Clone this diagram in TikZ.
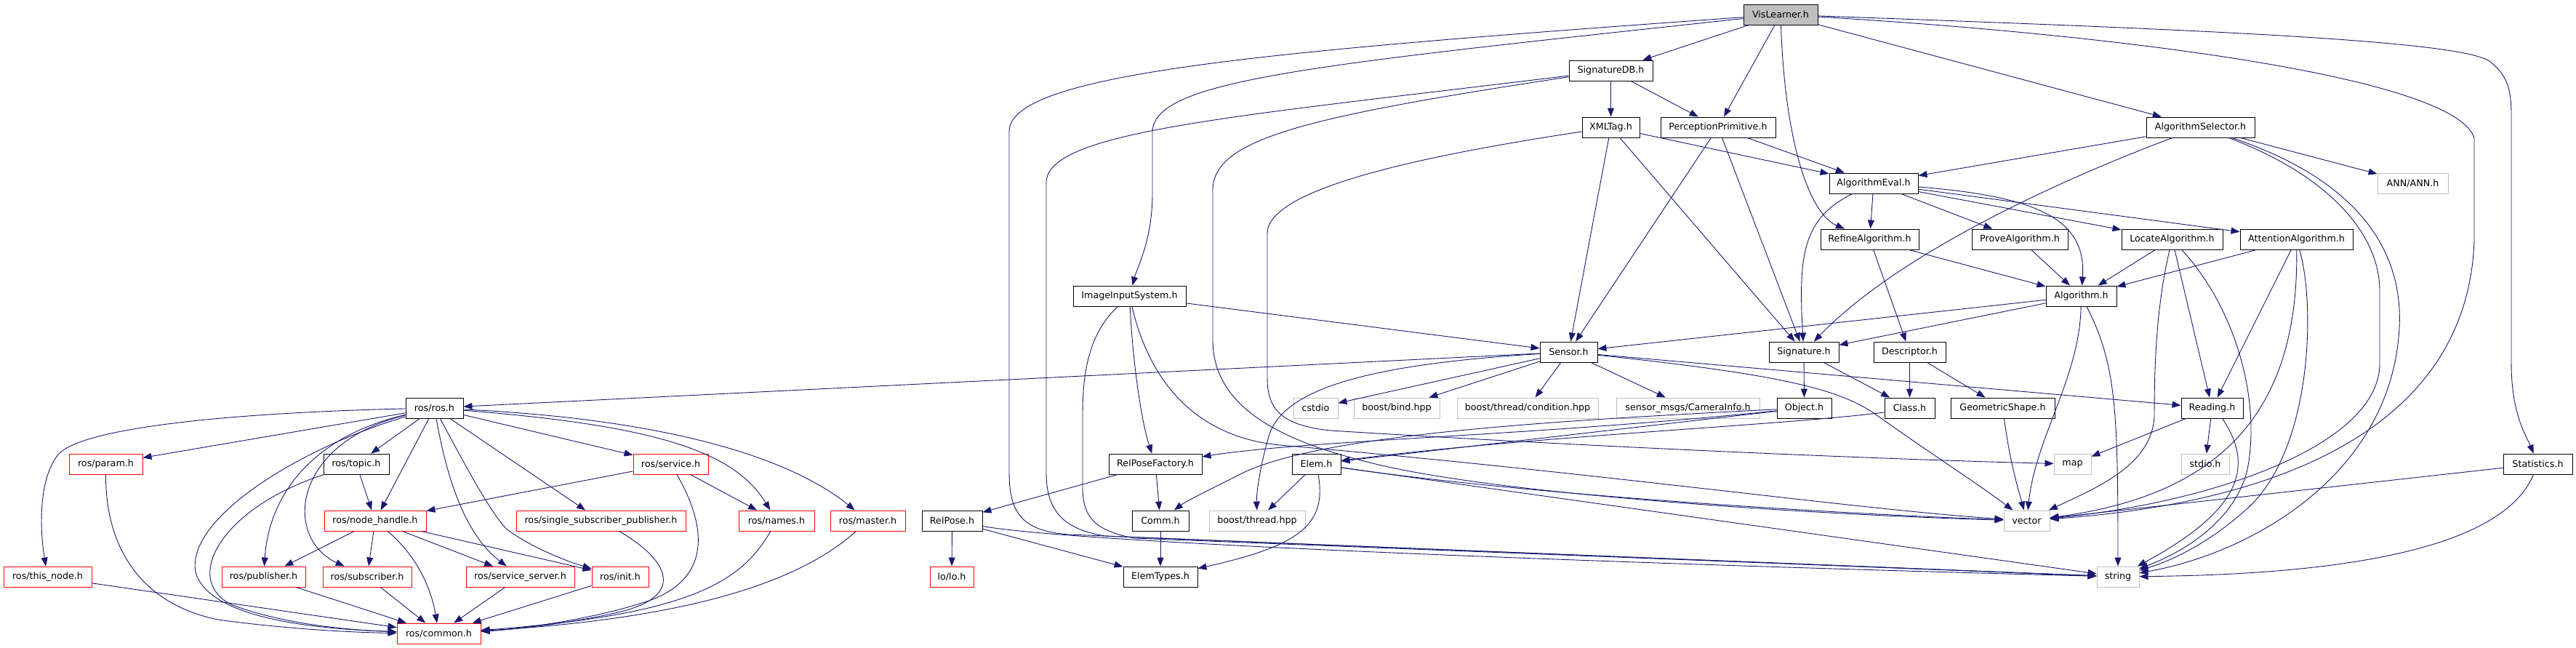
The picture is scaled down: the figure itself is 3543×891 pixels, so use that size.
\documentclass[tikz,border=0pt]{standalone}
\usepackage{fontspec}
\newfontfamily\dv{DejaVu Sans}
\usetikzlibrary{arrows.meta}
\definecolor{edgec}{HTML}{191970}
\definecolor{extg}{HTML}{BFBFBF}
\definecolor{trnred}{HTML}{FF0000}
\tikzset{
  nd/.style={draw=black, line width=0.9pt, inner sep=0pt, minimum height=28pt, font={\dv\fontsize{12.7}{15}\selectfont}, text=black},
  ext/.style={nd, draw=extg},
  trn/.style={nd, draw=trnred},
  e/.style={draw=edgec, line width=0.9pt, -{Triangle[length=12pt,width=9pt]}},
}
\begin{document}
\begin{tikzpicture}[x=1pt,y=-1pt]
\fill[white] (0,0) rectangle (3543,891);
\useasboundingbox (0,0) rectangle (3543,891);
% row 0-6
\node[nd,minimum width=102pt,fill=extg] (vis) at (2449,20) {VisLearner.h};
\node[nd,minimum width=115pt] (sdb) at (2215.5,97) {SignatureDB.h};
\node[nd,minimum width=158pt] (pp) at (2363,175) {PerceptionPrimitive.h};
\node[nd,minimum width=79pt] (xml) at (2215.5,175) {XMLTag.h};
\node[nd,minimum width=149pt] (asel) at (3026.5,175) {AlgorithmSelector.h};
\node[nd,minimum width=122pt] (ae) at (2577,252) {AlgorithmEval.h};
\node[ext,minimum width=97pt] (ann) at (3318.5,252) {ANN/ANN.h};
\node[nd,minimum width=135pt] (ra) at (2571.5,329) {RefineAlgorithm.h};
\node[nd,minimum width=132pt] (pa) at (2778,329) {ProveAlgorithm.h};
\node[nd,minimum width=139pt] (la) at (2987.5,329) {LocateAlgorithm.h};
\node[nd,minimum width=155pt] (att) at (3158.5,329) {AttentionAlgorithm.h};
\node[nd,minimum width=97pt] (alg) at (2862.5,407) {Algorithm.h};
\node[nd,minimum width=155pt] (iis) at (1553.5,407) {ImageInputSystem.h};
\node[nd,minimum width=79pt] (sen) at (2157.5,484) {Sensor.h};
\node[nd,minimum width=96pt] (sig) at (2481,484) {Signature.h};
\node[nd,minimum width=99pt] (desc) at (2626.5,484) {Descriptor.h};
% row 7
\node[nd,minimum width=79pt] (ros) at (597.5,561) {ros/ros.h};
\node[ext,minimum width=61pt] (cstdio) at (1809.5,561) {cstdio};
\node[ext,minimum width=118pt] (bind) at (1921,561) {boost/bind.hpp};
\node[ext,minimum width=194pt] (cond) at (2101,561) {boost/thread/condition.hpp};
\node[ext,minimum width=197pt] (cam) at (2321.5,561) {sensor\_msgs/CameraInfo.h};
\node[nd,minimum width=75pt] (obj) at (2481.5,561) {Object.h};
\node[nd,minimum width=69pt] (cls) at (2626.5,561) {Class.h};
\node[nd,minimum width=143pt] (geo) at (2754.5,561) {GeometricShape.h};
\node[nd,minimum width=85pt] (rdg) at (3042.5,561) {Reading.h};
% row 8
\node[trn,minimum width=101pt] (param) at (145.5,638) {ros/param.h};
\node[nd,minimum width=90pt] (topic) at (490,638) {ros/topic.h};
\node[trn,minimum width=103pt] (srv) at (922.5,638) {ros/service.h};
\node[nd,minimum width=128pt] (rpf) at (1589,638) {RelPoseFactory.h};
\node[nd,minimum width=67pt] (elem) at (1810.5,638) {Elem.h};
\node[ext,minimum width=51pt] (map) at (2850.5,638) {map};
\node[ext,minimum width=66pt] (stdio) at (3033,638) {stdio.h};
\node[nd,minimum width=95pt] (stat) at (3490.5,638) {Statistics.h};
% row 9
\node[trn,minimum width=140pt] (nh) at (516,716) {ros/node\_handle.h};
\node[trn,minimum width=233pt] (ssp) at (826.5,716) {ros/single\_subscriber\_publisher.h};
\node[trn,minimum width=104pt] (names) at (1068,716) {ros/names.h};
\node[trn,minimum width=103pt] (master) at (1193.5,716) {ros/master.h};
\node[nd,minimum width=83pt] (rp) at (1309.5,716) {RelPose.h};
\node[nd,minimum width=78pt] (comm) at (1596,716) {Comm.h};
\node[ext,minimum width=132pt] (bth) at (1729,716) {boost/thread.hpp};
\node[ext,minimum width=63pt] (vec) at (2787.5,716) {vector};
% row 10
\node[trn,minimum width=121pt] (tn) at (65.5,793) {ros/this\_node.h};
\node[trn,minimum width=115pt] (pub) at (362.5,793) {ros/publisher.h};
\node[trn,minimum width=122pt] (sub) at (505,793) {ros/subscriber.h};
\node[trn,minimum width=149pt] (ss) at (715.5,793) {ros/service\_server.h};
\node[trn,minimum width=78pt] (init) at (853,793) {ros/init.h};
\node[trn,minimum width=60pt] (lo) at (1309,793) {lo/lo.h};
\node[nd,minimum width=102pt] (et) at (1596,793) {ElemTypes.h};
\node[ext,minimum width=58pt] (str) at (2913,793) {string};
% row 11
\node[trn,minimum width=115pt] (common) at (603.5,871) {ros/common.h};

% ---- edges: VisLearner
\draw[e] (vis) -- (sdb);
\draw[e] (vis) -- (pp);
\draw[e] (vis) .. controls (1800,90) and (1590,110) .. (1585,180) -- (1585,265) .. controls (1585,330) and (1565,365) .. (iis);
\draw[e] (vis) .. controls (1750,70) and (1390,100) .. (1388,180) -- (1388,650) .. controls (1388,710) and (1410,730) .. (1470,735) -- (str);
\draw[e] (vis) .. controls (2455,200) and (2490,295) .. (ra);
\draw[e] (vis) -- (asel);
\draw[e] (vis) .. controls (3000,40) and (3390,55) .. (3425,85) .. controls (3450,105) and (3454,125) .. (3454,160) -- (3454,500) .. controls (3454,570) and (3475,600) .. (stat);
\draw[e] (vis) .. controls (2950,50) and (3380,110) .. (3403,190) -- (3403,330) .. controls (3395,580) and (3150,690) .. (vec);
% SignatureDB
\draw[e] (sdb) -- (xml);
\draw[e] (sdb) -- (pp);
\draw[e] (sdb) .. controls (1700,160) and (1442,180) .. (1439,250) -- (1439,650) .. controls (1439,705) and (1465,728) .. (1520,737) -- (str);
\draw[e] (sdb) .. controls (1800,160) and (1670,190) .. (1668,260) -- (1668,470) .. controls (1670,560) and (1760,605) .. (1880,635) .. controls (2050,680) and (2500,708) .. (vec);
% XMLTag
\draw[e] (xml) -- (ae);
\draw[e] (xml) -- (sen);
\draw[e] (xml) -- (sig);
\draw[e] (xml) .. controls (1950,215) and (1745,260) .. (1743,320) -- (1743,520) .. controls (1743,565) and (1765,585) .. (1830,592) .. controls (2200,615) and (2600,632) .. (map);
% PerceptionPrimitive
\draw[e] (pp) -- (ae);
\draw[e] (pp) -- (sen);
\draw[e] (pp) -- (sig);
% AlgorithmSelector
\draw[e] (asel) -- (ae);
\draw[e] (asel) .. controls (2800,260) and (2600,360) .. (sig);
\draw[e] (asel) -- (ann);
\draw[e] (asel) .. controls (3200,240) and (3273,320) .. (3273,400) -- (3273,500) .. controls (3273,610) and (3050,690) .. (vec);
\draw[e] (asel) .. controls (3250,250) and (3305,350) .. (3300,450) .. controls (3290,650) and (3100,760) .. (str);
% AlgorithmEval
\draw[e] (ae) -- (ra);
\draw[e] (ae) -- (pa);
\draw[e] (ae) -- (la);
\draw[e] (ae) -- (att);
\draw[e] (ae) .. controls (2800,270) and (2870,300) .. (alg);
\draw[e] (ae) .. controls (2480,300) and (2473,350) .. (sig);
% algorithms
\draw[e] (ra) -- (alg);
\draw[e] (ra) -- (desc);
\draw[e] (pa) -- (alg);
\draw[e] (la) -- (alg);
\draw[e] (la) -- (rdg);
\draw[e] (la) .. controls (2966,420) and (2963,500) .. (2963,570) .. controls (2962,640) and (2880,672) .. (vec);
\draw[e] (la) .. controls (3080,430) and (3110,560) .. (3090,650) .. controls (3070,720) and (3000,760) .. (str);
\draw[e] (att) -- (alg);
\draw[e] (att) -- (rdg);
\draw[e] (att) .. controls (3162,560) and (3060,680) .. (vec);
\draw[e] (att) .. controls (3185,420) and (3180,620) .. (3090,700) .. controls (3040,745) and (2990,770) .. (str);
% Algorithm
\draw[e] (alg) -- (sen);
\draw[e] (alg) -- (sig);
\draw[e] (alg) .. controls (2860,520) and (2800,600) .. (vec);
\draw[e] (alg) .. controls (2910,500) and (2913,560) .. (str);
% ImageInputSystem
\draw[e] (iis) -- (sen);
\draw[e] (iis) .. controls (1558,500) and (1570,580) .. (rpf);
\draw[e] (iis) .. controls (1580,520) and (1640,600) .. (1760,612) .. controls (2200,650) and (2550,700) .. (vec);
\draw[e] (iis) .. controls (1495,460) and (1489,520) .. (1489,570) -- (1489,670) .. controls (1489,715) and (1510,730) .. (1560,740) -- (str);
% Sensor
\draw[e] (sen) -- (ros);
\draw[e] (sen) -- (cstdio);
\draw[e] (sen) -- (bind);
\draw[e] (sen) -- (cond);
\draw[e] (sen) -- (cam);
\draw[e] (sen) -- (rdg);
\draw[e] (sen) .. controls (2450,515) and (2530,535) .. (2580,570) .. controls (2650,620) and (2720,665) .. (vec);
\draw[e] (sen) .. controls (1900,500) and (1765,530) .. (1745,600) .. controls (1732,645) and (1728,680) .. (bth);
% Signature, Descriptor, etc.
\draw[e] (sig) -- (obj);
\draw[e] (sig) -- (cls);
\draw[e] (desc) -- (cls);
\draw[e] (desc) -- (geo);
\draw[e] (geo) .. controls (2765,640) and (2778,680) .. (vec);
\draw[e] (rdg) -- (map);
\draw[e] (rdg) -- (stdio);
\draw[e] ([xshift=14pt]rdg.south) .. controls (3100,640) and (3085,700) .. (str);
\draw[e] (stat) -- (vec);
\draw[e] (stat) .. controls (3440,760) and (3200,790) .. (str);
% Object, Class, Elem
\draw[e] (obj) -- (elem);
\draw[e] ([yshift=-6pt]cls.west) .. controls (2450,585) and (2100,600) .. (elem);
\draw[e] (obj) .. controls (2100,580) and (1800,600) .. (1700,655) .. controls (1660,675) and (1630,690) .. (comm);
\draw[e] (obj) .. controls (2100,600) and (1800,605) .. (rpf);
\draw[e] (elem) -- (bth);
\draw[e] (elem) .. controls (1825,720) and (1790,750) .. (et);
\draw[e] (elem) .. controls (2100,680) and (2500,705) .. (vec);
\draw[e] (elem) -- (str);
% RelPose
\draw[e] (rpf) -- (rp);
\draw[e] (rpf) -- (comm);
\draw[e] (rp) -- (lo);
\draw[e] (rp) -- (et);
\draw[e] (rp) .. controls (1500,750) and (2400,780) .. (str);
\draw[e] (comm) -- (et);
% ros
\draw[e] (ros) -- (param);
\draw[e] (ros) .. controls (300,568) and (110,590) .. (80,625) .. controls (52,660) and (55,730) .. (tn);
\draw[e] (ros) .. controls (400,620) and (250,720) .. (270,790) .. controls (295,860) and (480,866) .. (common);
\draw[e] (ros) .. controls (430,600) and (370,680) .. (pub);
\draw[e] (ros) .. controls (400,610) and (390,740) .. (sub);
\draw[e] (ros) -- (topic);
\draw[e] (ros) -- (nh);
\draw[e] (ros) .. controls (615,660) and (640,735) .. (ss);
\draw[e] (ros) .. controls (640,640) and (680,715) .. (700,730) .. controls (740,758) and (790,775) .. (init);
\draw[e] (ros) -- (ssp);
\draw[e] (ros) -- (srv);
\draw[e] (ros) .. controls (900,585) and (1010,620) .. (names);
\draw[e] (ros) .. controls (950,578) and (1100,640) .. (master);
\draw[e] (topic) -- (nh);
\draw[e] (topic) .. controls (300,700) and (250,800) .. (320,832) .. controls (400,862) and (500,867) .. (common);
\draw[e] (param) .. controls (145,760) and (200,832) .. (300,852) .. controls (400,866) and (500,870) .. (common);
\draw[e] (tn) -- (common);
\draw[e] (nh) -- (pub);
\draw[e] (nh) -- (sub);
\draw[e] (nh) .. controls (580,770) and (595,820) .. (common);
\draw[e] (nh) -- (ss);
\draw[e] (nh) -- (init);
\draw[e] (pub) -- (common);
\draw[e] (sub) -- (common);
\draw[e] (srv) -- (nh);
\draw[e] (srv) -- (names);
\draw[e] (srv) .. controls (970,720) and (985,800) .. (880,830) .. controls (800,855) and (700,866) .. (common);
\draw[e] (ssp) .. controls (920,770) and (945,820) .. (850,842) .. controls (780,858) and (700,866) .. (common);
\draw[e] (names) .. controls (1020,800) and (950,845) .. (common);
\draw[e] (master) .. controls (1100,800) and (950,850) .. (common);
\draw[e] (ss) -- (common);
\draw[e] (init) -- (common);
\end{tikzpicture}
\end{document}
